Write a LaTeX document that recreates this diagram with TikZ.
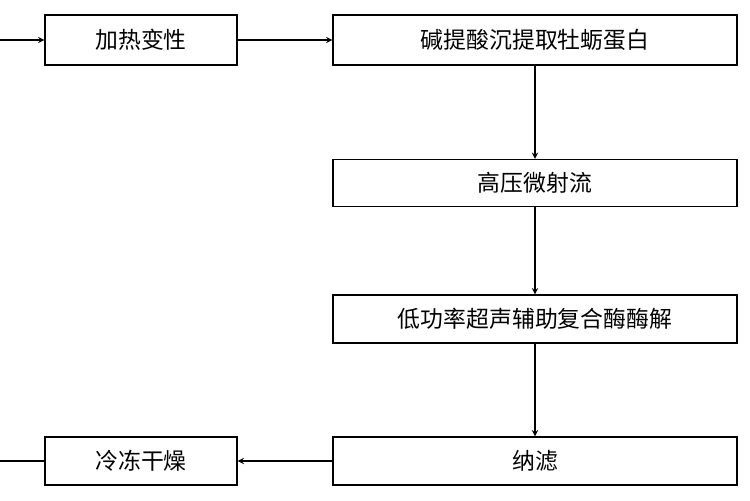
\documentclass[tikz,border=0pt]{standalone}
\usepackage{fontspec}
\setmainfont{Noto Sans CJK SC}
\usetikzlibrary{arrows,positioning}
\tikzstyle{stepbox}=[draw, line width=0.8pt, inner sep=0pt,
                     font=\fontsize{13}{15}\selectfont]
\tikzstyle{flow}   =[->, >=stealth, line width=0.6pt]
\begin{document}
\begin{tikzpicture}[x=0.02cm, y=-0.02cm]
    \useasboundingbox (0,0) rectangle (750,500);
    \node (heat) [stepbox, minimum width=3.84cm, minimum height=1cm] at (141,40) {加热变性};
    \node (alk)  [stepbox, minimum width=8.08cm, minimum height=1cm] at (535,40) {碱提酸沉提取牡蛎蛋白};
    \node (hpm)  [stepbox, minimum width=8.08cm, minimum height=0.94cm] at (535,183) {高压微射流};
    \node (enz)  [stepbox, minimum width=8.08cm, minimum height=0.96cm] at (535,319) {低功率超声辅助复合酶酶解};
    \node (nano) [stepbox, minimum width=8.08cm, minimum height=0.96cm] at (535,461) {纳滤};
    \node (dry)  [stepbox, minimum width=3.84cm, minimum height=0.96cm] at (141,461) {冷冻干燥};
    \coordinate (in)  at (0,40);
    \coordinate (out) at (0,461);
    \draw[flow] (in) -- (heat);
    \draw[flow] (heat) -- (alk);
    \draw[flow] (alk) -- (hpm);
    \draw[flow] (hpm) -- (enz);
    \draw[flow] (enz) -- (nano);
    \draw[flow] (nano) -- (dry);
    \draw[line width=0.6pt] (dry) -- (out);
\end{tikzpicture}
\end{document}
